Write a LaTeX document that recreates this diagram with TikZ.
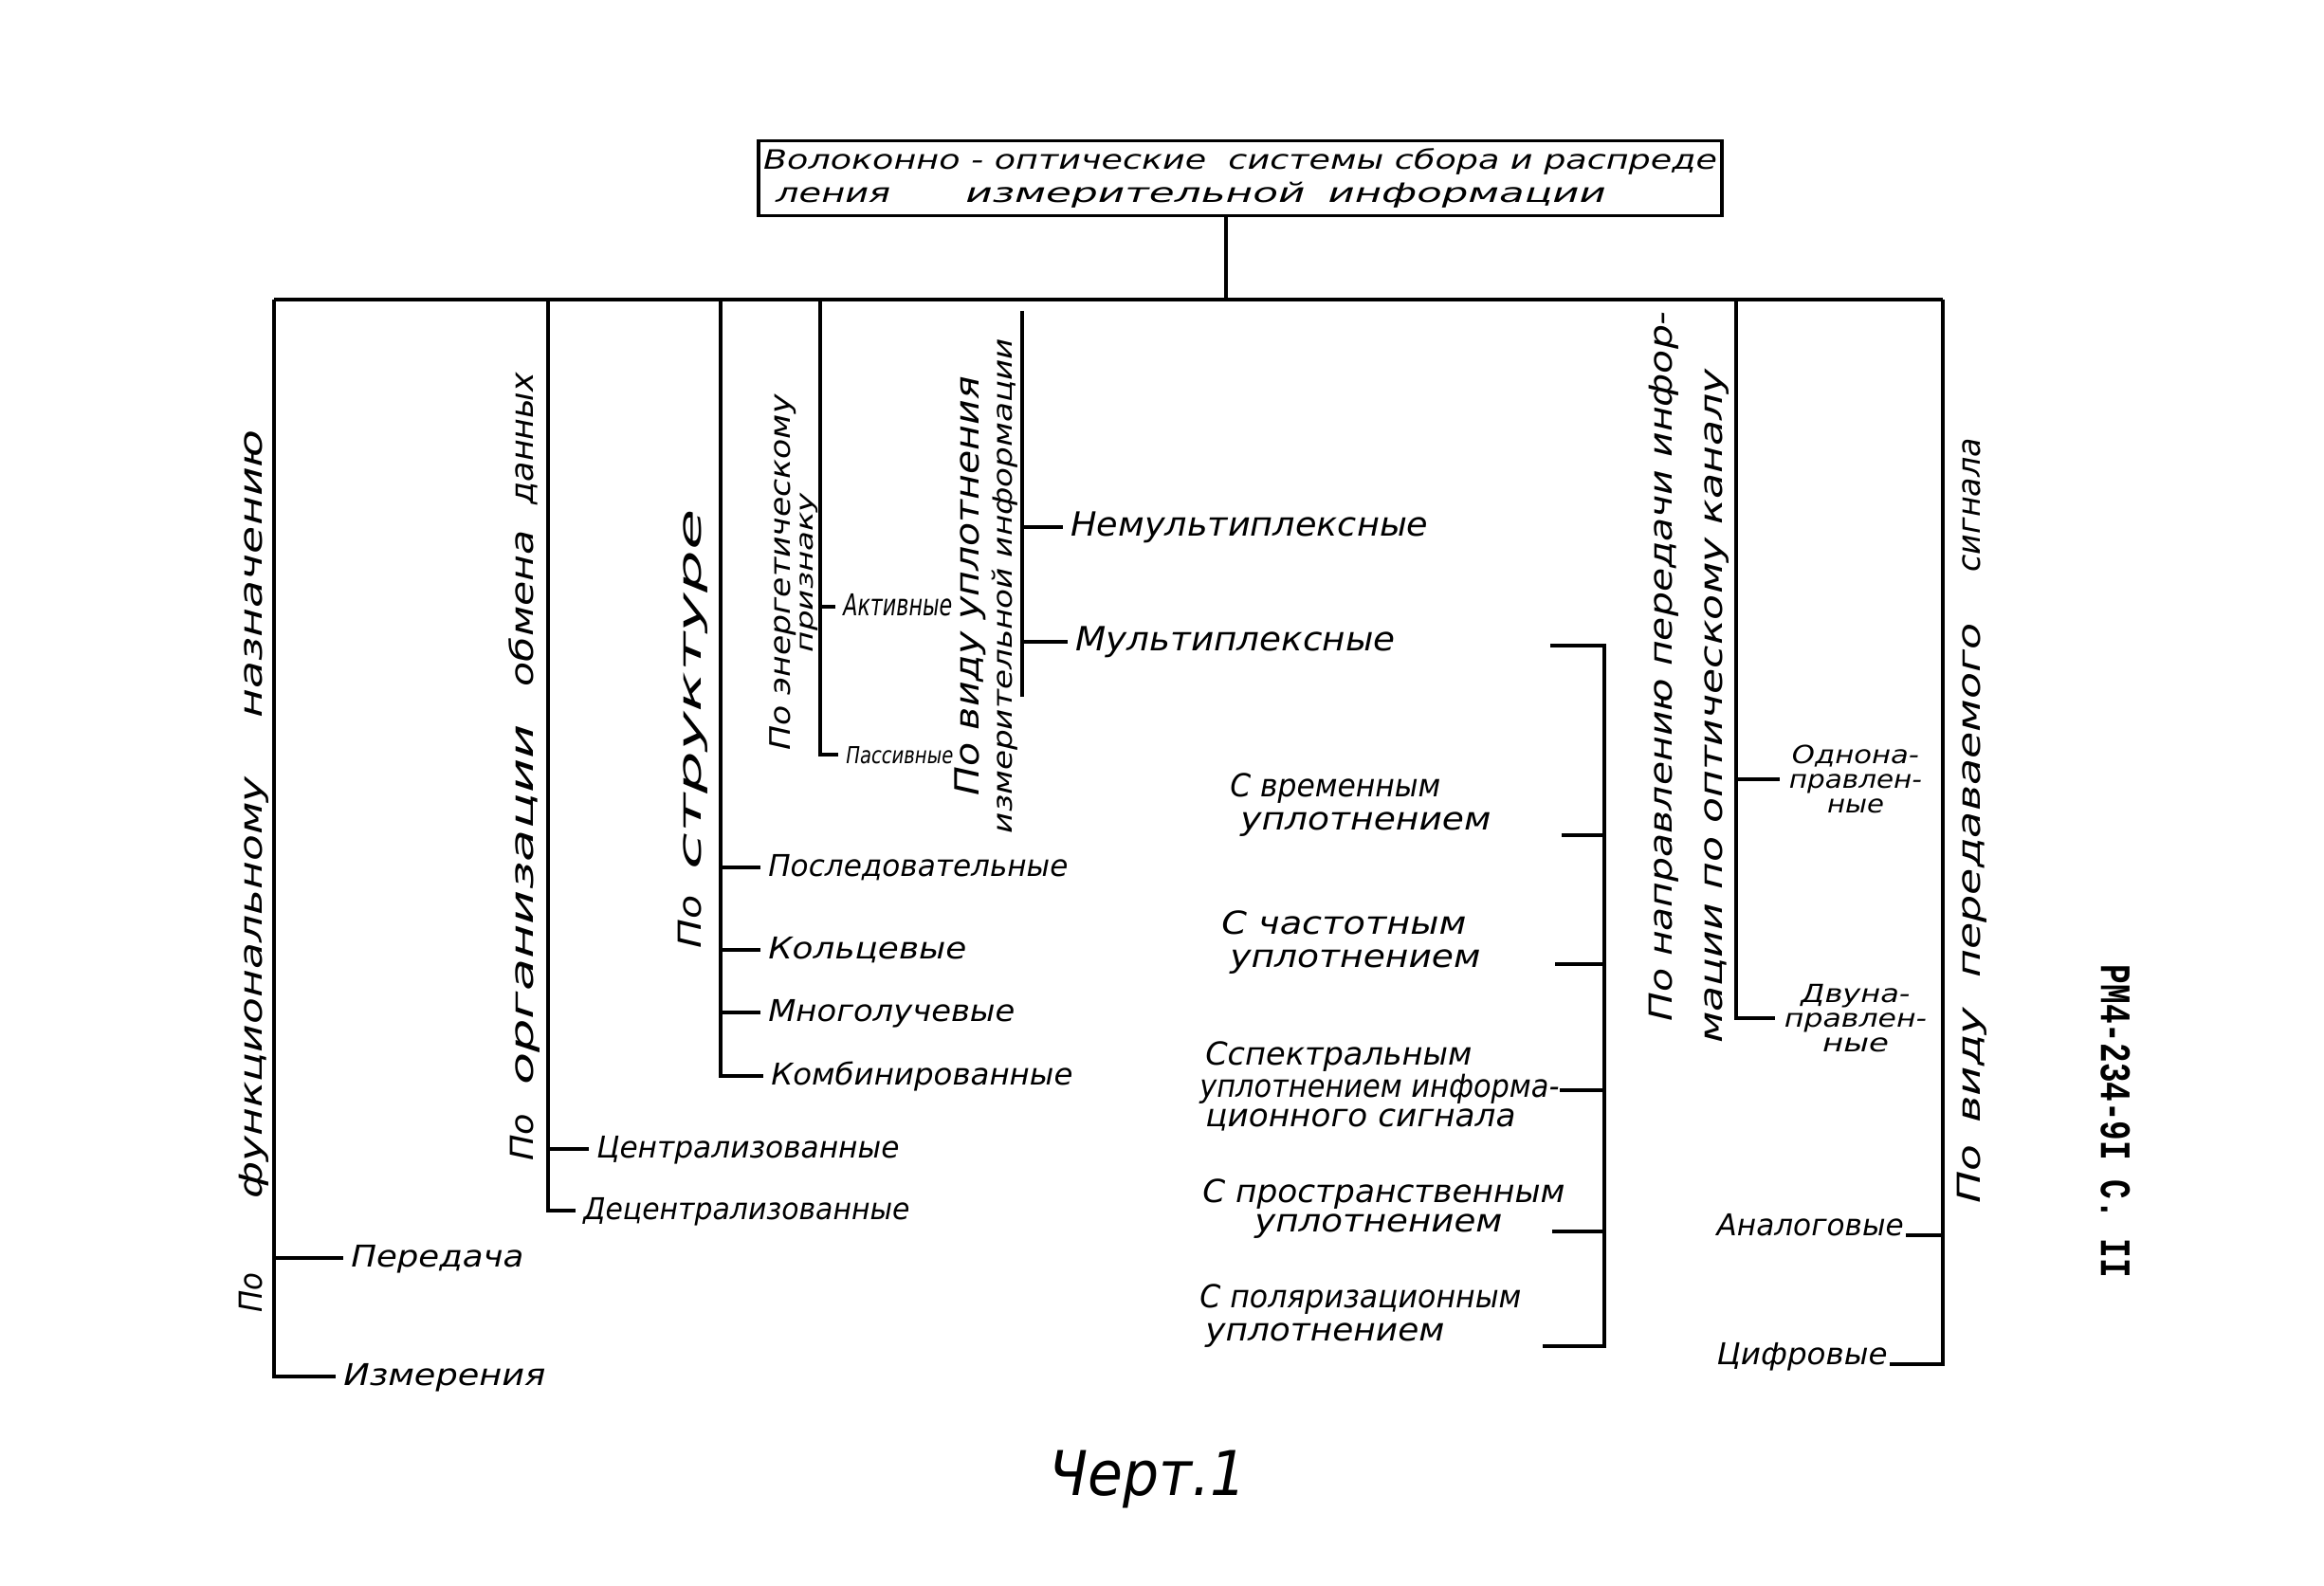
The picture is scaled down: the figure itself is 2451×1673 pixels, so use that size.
\documentclass[tikz,border=0pt]{standalone}
\usepackage{fontspec}
\usepackage{graphicx}
\setmainfont{DejaVu Sans}
\newfontfamily\typer{Liberation Mono}

% stretch or squeeze a text to a given width
\newsavebox\hwbox
\newlength\hwlen
\newcommand\fitto[2]{\sbox\hwbox{#2}\setlength\hwlen{\wd\hwbox}%
  \pgfmathsetmacro\hwsx{#1/\hwlen}\scalebox{\hwsx}[1]{\usebox\hwbox}}

\begin{document}
\begin{tikzpicture}[x=0.01cm,y=-0.01cm,line width=1.3pt,
    hand/.style args={#1/#2}{font=\itshape\fontsize{#1}{#2}\selectfont,inner sep=0pt},
    leaf/.style={hand=9/9,anchor=mid west,inner xsep=0.06cm},
    bigleaf/.style={leaf,hand=10/10,inner xsep=0.06cm},
    head/.style={hand=#1/#1,rotate=90,anchor=west},
    blist/.style={hand=9.5/#1,align=left,anchor=north west},
    blist/.default=10.2]
  \useasboundingbox (0,0) rectangle (2451,1673);

  % root
  \node[draw,line width=1.1pt,hand=8/10.2,align=left,minimum width=10.15cm,minimum height=0.79cm] (root) at (1308,188)
    {\fitto{10.05cm}{Волоконно - оптические \ системы сбора и распреде}\\\hspace*{0.13cm}\fitto{1.21cm}{ления}\hspace{0.79cm}\fitto{3.58cm}{измерительной}\hspace{0.24cm}\fitto{2.93cm}{информации}};

  \coordinate (stem) at (1293,316);
  \coordinate (b1) at (289,316);
  \coordinate (b2) at (578,316);
  \coordinate (b3) at (760,316);
  \coordinate (b4) at (865,316);
  \coordinate (b5) at (1078,328);
  \coordinate (b5end) at (1078,735);
  \coordinate (b6) at (1831,316);
  \coordinate (b7) at (2049,316);
  \draw (stem |- root.south) -- (stem);
  \draw (b1) -- (b7);

  % po funkcionalnomu naznacheniyu
  \node[head=9.5] (func) at (268,1387) {\fitto{0.42cm}{По}\hspace{0.78cm}\fitto{4.45cm}{функциональному}\hspace{0.62cm}\fitto{3.04cm}{назначению}};
  \node[leaf] (peredacha) at (362,1327) {\fitto{1.82cm}{Передача}};
  \node[leaf] (izmer) at (354,1452) {\fitto{2.13cm}{Измерения}};
  \draw (b1) |- (izmer.mid west);
  \draw (b1 |- peredacha.mid west) -- (peredacha.mid west);

  % po organizacii obmena
  \node[head=9.5] (org) at (553,1227) {\fitto{0.50cm}{По}\hspace{0.30cm}\fitto{3.80cm}{организации}\hspace{0.40cm}\fitto{1.65cm}{обмена}\hspace{0.27cm}\fitto{1.39cm}{данных}};
  \node[leaf] (central) at (621,1212) {\fitto{3.19cm}{Централизованные}};
  \node[leaf] (decentral) at (607,1277) {\fitto{3.44cm}{Децентрализованные}};
  \draw (b2) |- (decentral.mid west);
  \draw (b2 |- central.mid west) -- (central.mid west);

  % po strukture
  \node[head=9.5] (struct) at (731,1003) {\fitto{0.56cm}{По}\hspace{0.27cm}\fitto{3.80cm}{структуре}};
  \foreach \n/\x/\y/\w/\txt in {posled/802/915/3.16/Последовательные,kolc/802/1002/2.09/Кольцевые,
      mnogo/802/1068/2.60/Многолучевые,kombi/805/1135/3.18/Комбинированные}
    \node[leaf] (\n) at (\x,\y) {\fitto{\w cm}{\txt}};
  \draw (b3) |- (kombi.mid west);
  \foreach \n in {posled,kolc,mnogo}
    \draw (b3 |- \n.mid west) -- (\n.mid west);

  % po energeticheskomu priznaku
  \node[hand=8.5/6.8,rotate=90,align=center] (energ) at (837,604) {\fitto{3.75cm}{По энергетическому}\\{\fontsize{7}{6.8}\selectfont\fitto{1.68cm}{признаку}}};
  \node[leaf] (aktiv) at (881,640) {\fitto{1.15cm}{Активные}};
  \node[leaf,hand=7/7,inner xsep=0.06cm] (passiv) at (884,796) {\fitto{1.13cm}{Пассивные}};
  \draw (b4) |- (passiv.mid west);
  \draw (b4 |- aktiv.mid west) -- (aktiv.mid west);

  % po vidu uplotneniya
  \node[hand=8/9.8,rotate=90,align=center] (uplot) at (1040,618) {{\fontsize{10}{9.8}\selectfont\fitto{4.42cm}{По виду уплотнения}}\\\fitto{5.22cm}{измерительной информации}};
  \node[bigleaf] (nemult) at (1121,556) {\fitto{3.77cm}{Немультиплексные}};
  \node[bigleaf] (mult) at (1126,677) {\fitto{3.37cm}{Мультиплексные}};
  \draw (b5) -- (b5end);
  \draw (b5 |- nemult.mid west) -- (nemult.mid west);
  \draw (b5 |- mult.mid west) -- (mult.mid west);

  % vidy multipleksirovaniya
  \coordinate (kb) at (1692,681);
  \foreach \k/\x/\y in {1/1635/681,2/1647/881,3/1640/1017,4/1645/1150,5/1637/1299,6/1627/1420}
    \coordinate (k\k) at (\x,\y);
  \draw (k1) -- (kb) |- (k6);
  \foreach \k in {2,...,5}
    \draw (k\k) -- (kb |- k\k);
  \node[blist] (vrem) at (1295,813) {\fitto{2.22cm}{С временным}\\\hspace*{0.11cm}\fitto{2.64cm}{уплотнением}};
  \node[blist] (chast) at (1286,958) {\fitto{2.58cm}{С частотным}\\\hspace*{0.09cm}\fitto{2.64cm}{уплотнением}};
  \node[blist=8.8] (spektr) at (1263,1096) {\hspace*{0.06cm}\fitto{2.81cm}{Сспектральным}\\\fitto{3.79cm}{уплотнением информа-}\\\hspace*{0.06cm}\fitto{3.27cm}{ционного сигнала}};
  \node[blist=9] (prostr) at (1266,1241) {\fitto{3.82cm}{С пространственным}\\\hspace*{0.55cm}\fitto{2.61cm}{уплотнением}};
  \node[blist] (polyar) at (1263,1352) {\fitto{3.39cm}{С поляризационным}\\\hspace*{0.06cm}\fitto{2.52cm}{уплотнением}};

  % po napravleniyu peredachi
  \node[hand=9.5/15,rotate=90,align=left,anchor=north west] (naprav) at (1737,1103) {\hspace*{0.23cm}\fitto{7.49cm}{По направлению передачи инфор-}\\\fitto{7.11cm}{мации по оптическому каналу}};
  \node[hand=7.5/7.5,align=center,inner xsep=0.08cm] (odno) at (1957,822) {\fitto{1.34cm}{Однона-}\\\fitto{1.40cm}{правлен-}\\\fitto{0.60cm}{ные}};
  \node[hand=7.5/7.5,align=center,inner xsep=0.08cm] (dvuna) at (1957,1074) {\fitto{1.15cm}{Двуна-}\\\fitto{1.50cm}{правлен-}\\\fitto{0.70cm}{ные}};
  \draw (b6) |- (dvuna.west);
  \draw (b6 |- odno.west) -- (odno.west);

  % po vidu signala
  \node[head=9.5] (signal) at (2080,1272) {\fitto{0.62cm}{По}\hspace{0.23cm}\fitto{1.22cm}{виду}\hspace{0.31cm}\fitto{3.74cm}{передаваемого}\hspace{0.54cm}\fitto{1.41cm}{сигнала}};
  \node[hand=9/9,anchor=base east] (analog) at (2010,1303) {\fitto{1.97cm}{Аналоговые}};
  \node[hand=9/9,anchor=base east] (cifr) at (1993,1439) {\fitto{1.80cm}{Цифровые}};
  \draw (b7) |- (cifr.base east);
  \draw (b7 |- analog.base east) -- (analog.base east);

  \node[rotate=-90,inner sep=0pt,font=\typer\bfseries\fontsize{13}{13}\selectfont] (code) at (2231,1183) {\fitto{3.30cm}{РМ4-234-9I С. II}};
  \node[hand=18.5/18.5,anchor=base west] (chert) at (1104,1577) {\fitto{2.08cm}{Черт.1}};
\end{tikzpicture}
\end{document}
